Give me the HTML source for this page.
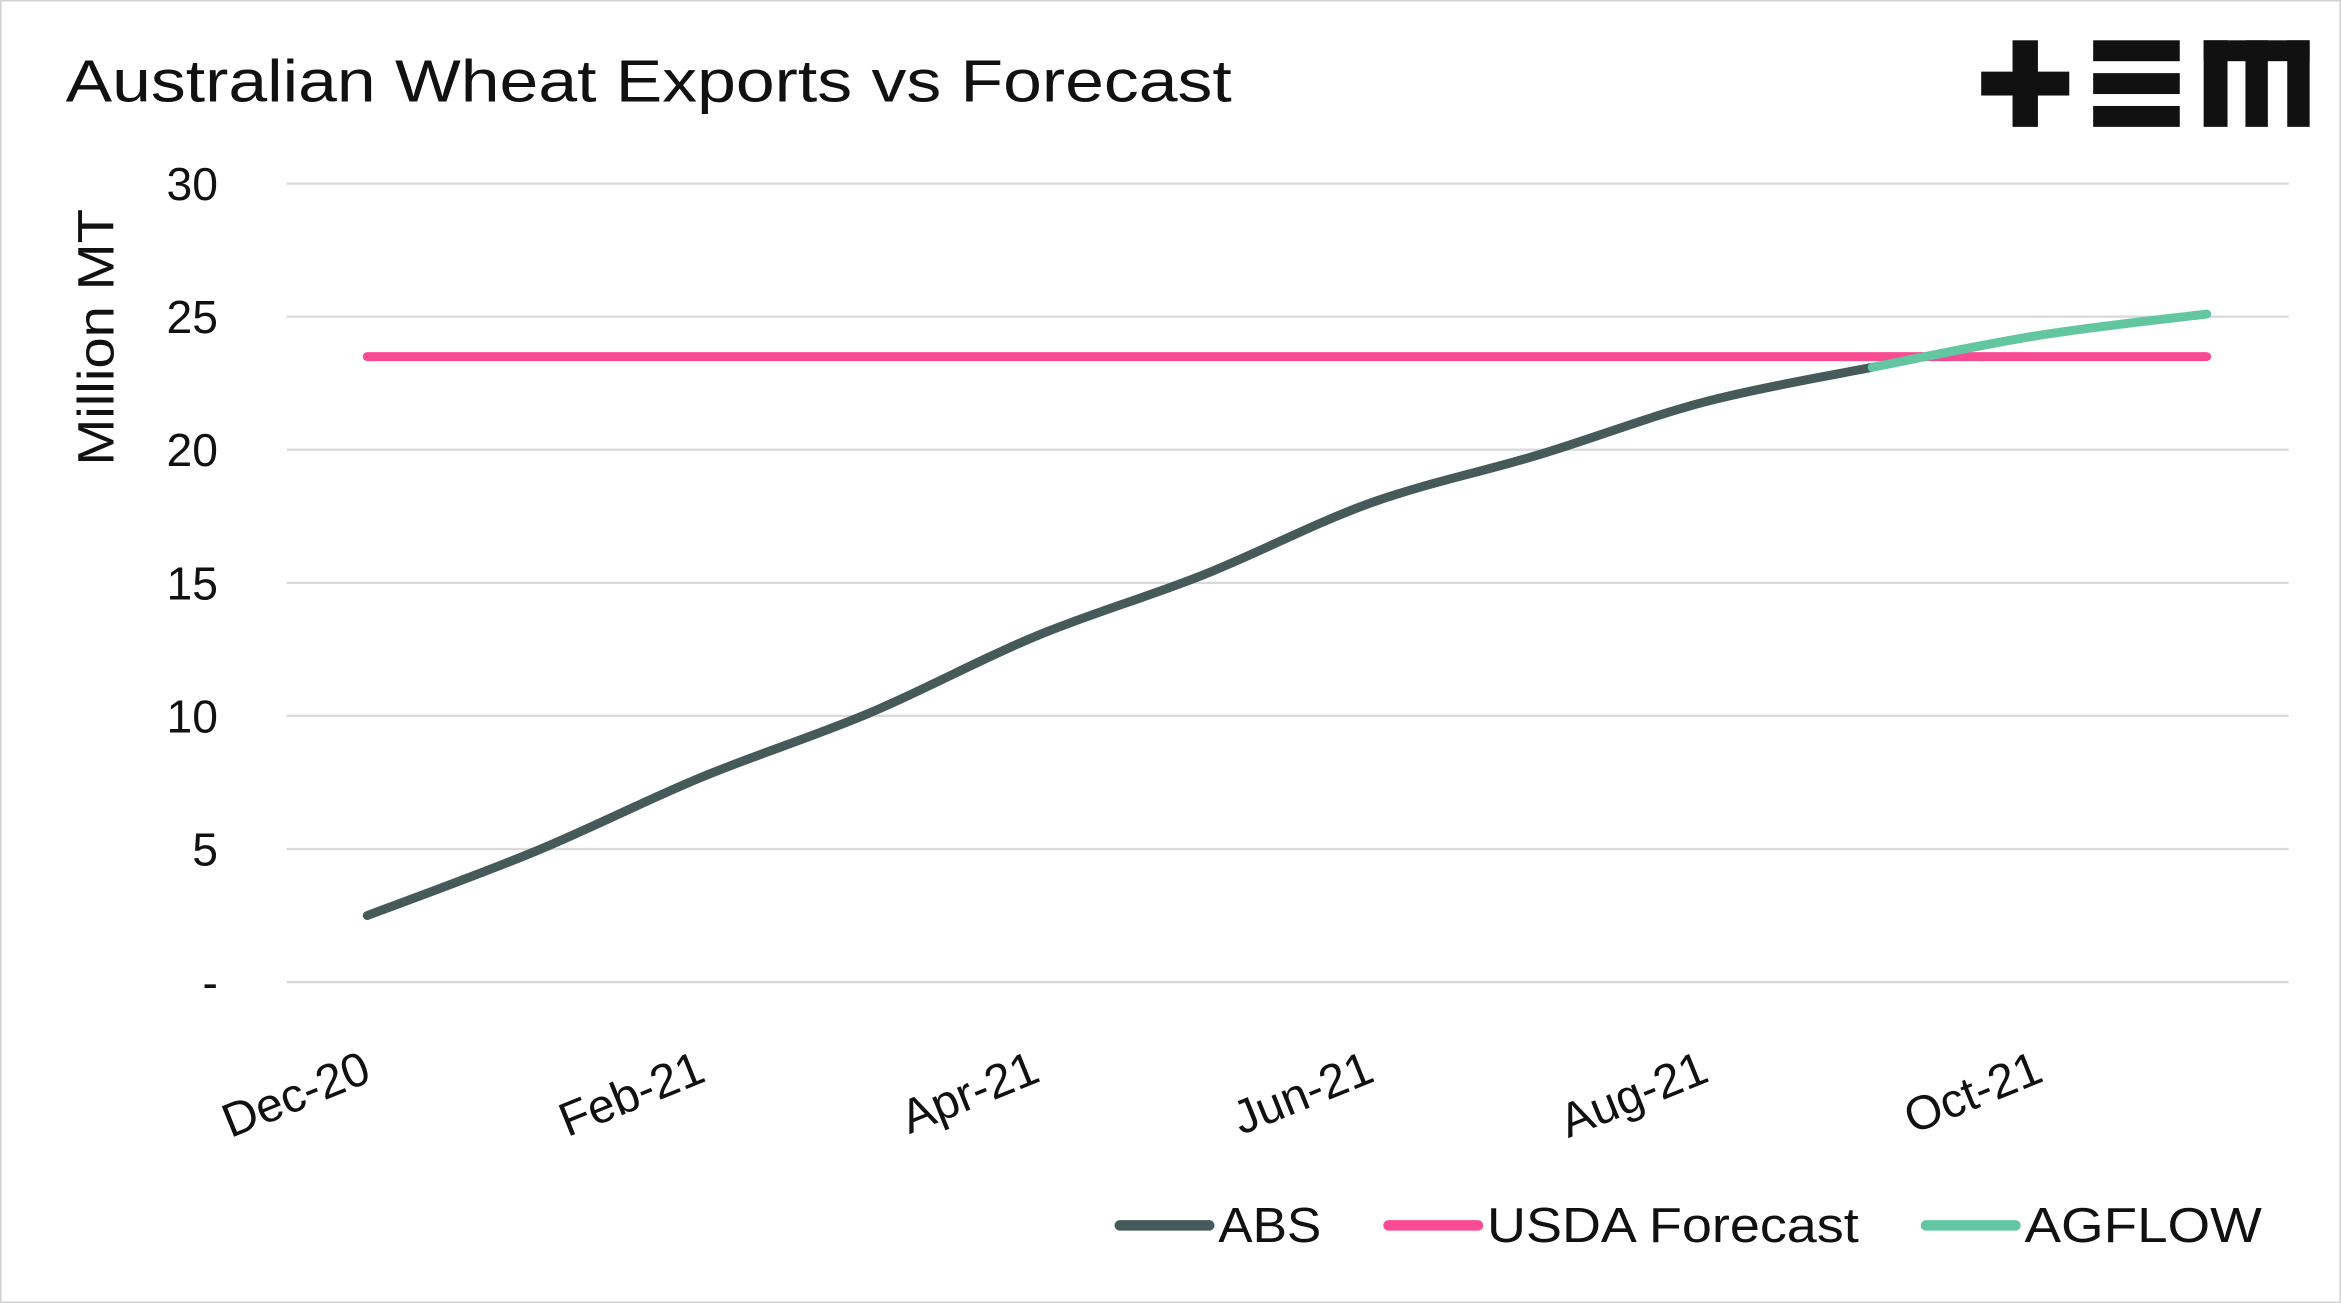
<!DOCTYPE html>
<html><head><meta charset="utf-8"><style>
html,body{margin:0;padding:0;background:#fff;}
svg{display:block;font-family:"Liberation Sans",sans-serif;}
</style></head><body>
<svg width="2341" height="1303" viewBox="0 0 1568 873" preserveAspectRatio="none">
<rect x="0.5" y="0.5" width="1567" height="872" fill="#fff" stroke="#d0d0d0"/>
<text x="44" y="68" font-size="40" fill="#111" textLength="781" lengthAdjust="spacingAndGlyphs">Australian Wheat Exports vs Forecast</text>
<g fill="#111">
<rect x="1327" y="48" width="59" height="16"/><rect x="1348" y="27" width="17" height="58"/>
<rect x="1402" y="27" width="58" height="14"/><rect x="1402" y="49" width="58" height="14"/><rect x="1402" y="71" width="58" height="14"/>
<rect x="1476" y="27" width="71" height="14"/><rect x="1476" y="27" width="16" height="58"/><rect x="1504" y="27" width="15" height="58"/><rect x="1532" y="27" width="15" height="58"/>
</g>
<g id="grid"></g><g id="ylab"></g><g id="xlab"></g><g id="lines"></g>
<text transform="translate(76,226) rotate(-90)" text-anchor="middle" font-size="34" fill="#111" textLength="172" lengthAdjust="spacingAndGlyphs">Million MT</text>
<g>
<line x1="750" y1="821" x2="810" y2="821" stroke="#475a5a" stroke-width="7" stroke-linecap="round"/>
<text x="816" y="832" font-size="33" fill="#111" textLength="69" lengthAdjust="spacingAndGlyphs">ABS</text>
<line x1="930" y1="821" x2="990" y2="821" stroke="#f94b93" stroke-width="7" stroke-linecap="round"/>
<text x="996" y="832" font-size="33" fill="#111" textLength="249" lengthAdjust="spacingAndGlyphs">USDA Forecast</text>
<line x1="1290" y1="821" x2="1350" y2="821" stroke="#62c7a0" stroke-width="7" stroke-linecap="round"/>
<text x="1356" y="832" font-size="33" fill="#111" textLength="159" lengthAdjust="spacingAndGlyphs">AGFLOW</text>
</g>
</svg>
<script>
const months=["Dec-20","Jan-21","Feb-21","Mar-21","Apr-21","May-21","Jun-21","Jul-21","Aug-21","Sep-21","Oct-21","Nov-21"];
const absValues=[2.5,4.9,7.7,10.1,13.0,15.3,18.0,19.8,21.8,23.1,null,null];
const agflowValues=[null,null,null,null,null,null,null,null,null,23.1,24.3,25.1];
const usdaValue=23.5;
const yTicks=[0,5,10,15,20,25,30];
const yTickLabels=["-","5","10","15","20","25","30"];
const xLabelIdx=[0,2,4,6,8,10];
const NS="http://www.w3.org/2000/svg";
const X=i=>246+i*112, Y=v=>658-v*(535/30);
function mk(t,a,p){const e=document.createElementNS(NS,t);for(const k in a)e.setAttribute(k,a[k]);p.appendChild(e);return e;}
const grid=document.getElementById('grid'),yl=document.getElementById('ylab'),xl=document.getElementById('xlab'),ln=document.getElementById('lines');
yTicks.forEach((v,i)=>{
 const g=mk('line',{x1:192,x2:1533,y1:Y(v),y2:Y(v),stroke:'#d9d9d9','stroke-width':1.5},grid);
 
 
 const t=mk('text',{x:146,y:Y(v)+11,'text-anchor':'end','font-size':31,fill:'#111'},yl);
 t.textContent=yTickLabels[i];
 
 
});
xLabelIdx.forEach(i=>{
 const t=mk('text',{transform:`translate(${X(i)+4},724) rotate(-22)`,'text-anchor':'end','font-size':32,fill:'#111'},xl);
 t.textContent=months[i];
 
 
});
function path(vals){
 const p=[];vals.forEach((v,i)=>{if(v!=null)p.push([X(i),Y(v)]);});
 let d=`M${p[0][0]},${p[0][1]}`;
 for(let i=0;i<p.length-1;i++){const p0=p[i-1]||p[i],p1=p[i],p2=p[i+1],p3=p[i+2]||p2;
  d+=` C${p1[0]+(p2[0]-p0[0])/6},${p1[1]+(p2[1]-p0[1])/6} ${p2[0]-(p3[0]-p1[0])/6},${p2[1]-(p3[1]-p1[1])/6} ${p2[0]},${p2[1]}`;}
 return d;
}
const u=mk('line',{x1:X(0),x2:X(months.length-1),y1:Y(usdaValue),y2:Y(usdaValue),stroke:'#f94b93','stroke-width':6,'stroke-linecap':'round'},ln);


const a=mk('path',{d:path(absValues),fill:'none',stroke:'#475a5a','stroke-width':6,'stroke-linecap':'round'},ln);


const g=mk('path',{d:path(agflowValues),fill:'none',stroke:'#62c7a0','stroke-width':6,'stroke-linecap':'round'},ln);


</script>
</body></html>
